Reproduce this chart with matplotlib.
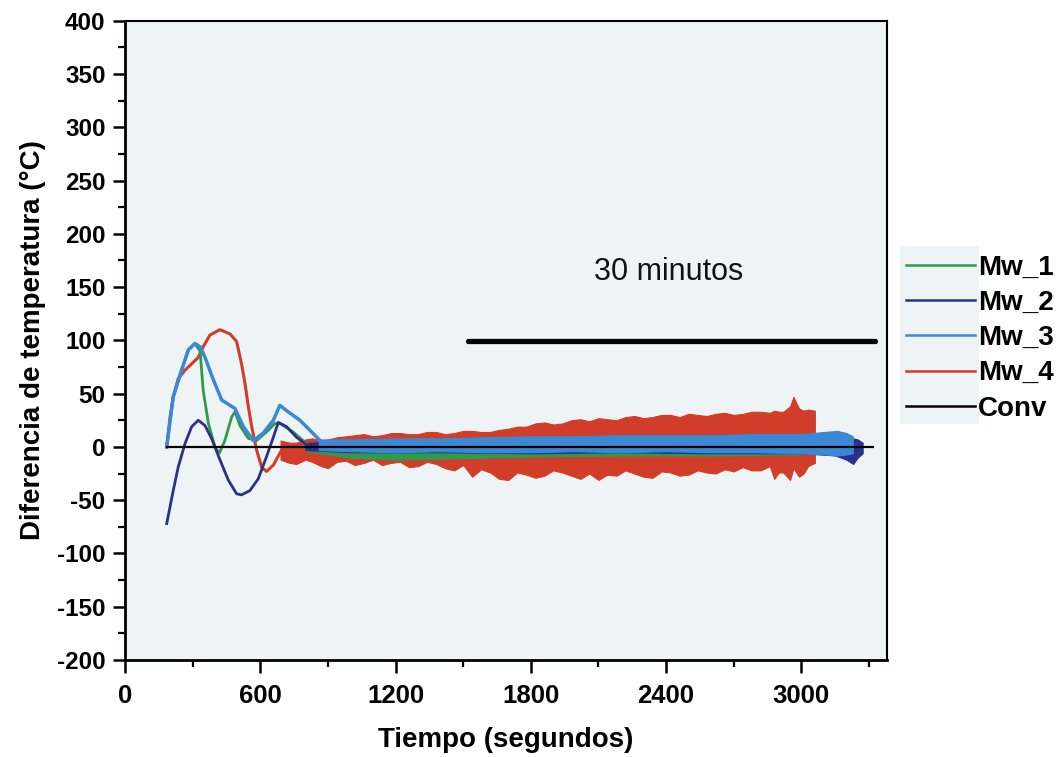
import numpy as np
import matplotlib.pyplot as plt
from matplotlib.patches import Rectangle
from matplotlib.ticker import MultipleLocator

plt.rcParams['font.family'] = ['Liberation Sans', 'DejaVu Sans']
plt.rcParams['axes.unicode_minus'] = False

# --- smooth start-up part of each run (time in s, temperature difference in °C) ---
mw1_t = [185, 214, 251, 281, 310, 333, 347, 370, 399, 418, 443, 473, 488, 510, 547, 584, 628, 665, 687, 746, 806]
mw1_v = [0, 47, 72, 91, 97, 90, 53, 22, 0, -6, 6, 28, 33, 20, 8, 6, 14, 22, 22, 14, 3]

mw2_t = [185, 214, 236, 266, 296, 325, 355, 384, 421, 458, 495, 517, 554, 591, 628, 658, 680, 717, 761, 806]
mw2_v = [-72, -41, -19, 3, 19, 25, 20, 8, -12, -31, -44, -45, -41, -30, -9, 9, 23, 19, 9, 2]

mw3_t = [185, 214, 251, 281, 310, 333, 355, 392, 429, 466, 488, 525, 569, 613, 658, 687, 717, 776, 828, 865]
mw3_v = [0, 47, 72, 91, 97, 94, 84, 63, 44, 39, 36, 19, 6, 13, 25, 39, 34, 25, 14, 6]

mw4_t = [185, 200, 214, 236, 266, 296, 325, 347, 377, 421, 466, 495, 517, 532, 547, 562, 584, 606, 628, 658, 687, 710]
mw4_v = [0, 28, 47, 64, 72, 78, 84, 94, 105, 110, 106, 99, 78, 60, 38, 19, -3, -19, -23, -17, -6, 3]

# --- noisy steady part: envelope of the signal (lower / upper) ---
mw4_band_t = [690, 730, 760, 800, 830, 870, 900, 940, 980, 1020, 1060, 1100, 1140, 1180, 1220, 1260,
              1300, 1340, 1380, 1420, 1460, 1500, 1540, 1580, 1620, 1660, 1700, 1740, 1780, 1820,
              1860, 1900, 1940, 1980, 2020, 2060, 2100, 2140, 2180, 2220, 2260, 2300, 2340, 2380,
              2420, 2460, 2500, 2540, 2580, 2620, 2660, 2700, 2740, 2780, 2820, 2860, 2880, 2900,
              2920, 2950, 2965, 2990, 3010, 3030, 3060]
mw4_band_lo = [-12, -15, -16, -12, -14, -18, -20, -14, -13, -17, -15, -12, -17, -15, -14, -19,
               -18, -14, -16, -20, -22, -17, -28, -21, -24, -30, -31, -24, -26, -29,
               -27, -22, -24, -27, -30, -25, -31, -26, -27, -22, -25, -28, -29, -23,
               -24, -27, -26, -22, -24, -25, -21, -23, -19, -22, -22, -18, -30, -24,
               -24, -31, -20, -28, -25, -18, -15]
mw4_band_hi = [6, 4, 4, 7, 8, 6, 7, 9, 10, 11, 12, 10, 11, 13, 13, 12,
               12, 14, 14, 12, 13, 15, 15, 14, 14, 16, 17, 19, 19, 22,
               23, 21, 22, 25, 26, 24, 27, 26, 25, 28, 29, 27, 28, 30,
               30, 28, 31, 30, 29, 31, 32, 30, 31, 33, 33, 32, 34, 33,
               33, 38, 47, 36, 34, 35, 34]

mw3_band_t = [860, 1000, 1200, 1400, 1600, 1800, 2000, 2200, 2400, 2600, 2800, 3000, 3100, 3160, 3200, 3228]
mw3_band_lo = [-3, -4, -5, -4, -5, -5, -4, -5, -4, -5, -5, -6, -7, -8, -7, -6]
mw3_band_hi = [7, 7, 8, 8, 9, 10, 10, 11, 11, 11, 12, 12, 14, 15, 13, 10]

mw2_band_t = [800, 1000, 1400, 1800, 2200, 2600, 3000, 3150, 3200, 3230, 3250, 3272]
mw2_band_lo = [-3, -5, -5, -6, -5, -6, -6, -8, -12, -16, -10, -6]
mw2_band_hi = [4, 5, 5, 6, 6, 6, 7, 8, 9, 8, 7, 4]

mw1_band_t = [800, 1000, 1200, 1400, 1600, 1800, 2200, 2600, 3000]
mw1_band_lo = [-4, -10, -12, -11, -10, -9, -8, -8, -7]
mw1_band_hi = [2, 0, 0, 1, 1, 2, 2, 2, 2]

conv_t = [185, 3317]
conv_v = [0, 0]

bar_t = [1521, 3326]
bar_v = [99, 99]

colors = {'Mw_1': '#2f9a4c', 'Mw_2': '#29318c', 'Mw_3': '#3b89d4', 'Mw_4': '#d23d29', 'Conv': '#000000'}

fig = plt.figure(figsize=(10.61, 7.57), dpi=100)
fig.patch.set_facecolor('white')
ax = fig.add_axes([0.1178, 0.1281, 0.7182, 0.8446])
ax.set_facecolor('#eef4f6')

# legend backdrop (light panel like the scanned original)
fig.patches.append(Rectangle((0.848, 0.440), 0.075, 0.235, transform=fig.transFigure,
                             facecolor='#eef4f6', edgecolor='none', zorder=0))

# bands first, then the smooth curves
ax.fill_between(mw4_band_t, mw4_band_lo, mw4_band_hi, color=colors['Mw_4'], lw=0.8, zorder=2)
ax.fill_between(mw1_band_t, mw1_band_lo, mw1_band_hi, color=colors['Mw_1'], lw=0.8, zorder=3)
ax.fill_between(mw2_band_t, mw2_band_lo, mw2_band_hi, color=colors['Mw_2'], lw=0.8, zorder=3.5)
ax.fill_between(mw3_band_t, mw3_band_lo, mw3_band_hi, color=colors['Mw_3'], lw=0.8, zorder=4)

ax.plot(mw4_t, mw4_v, color=colors['Mw_4'], lw=2.2, zorder=5)
ax.plot(mw1_t, mw1_v, color=colors['Mw_1'], lw=2.0, zorder=5)
ax.plot(mw3_t, mw3_v, color=colors['Mw_3'], lw=2.5, zorder=6)
ax.plot(mw2_t, mw2_v, color=colors['Mw_2'], lw=2.0, zorder=7)
ax.plot(conv_t, conv_v, color=colors['Conv'], lw=1.6, zorder=8)

# 30 minute marker
ax.plot(bar_t, bar_v, color='black', lw=3.8, solid_capstyle='round', zorder=8)
ax.text(2412, 164, '30 minutos', fontsize=22, ha='center', va='center', color='#111111')

ax.set_xlim(0, 3380)
ax.set_ylim(-200, 400)
ax.xaxis.set_major_locator(MultipleLocator(600))
ax.xaxis.set_minor_locator(MultipleLocator(300))
ax.yaxis.set_major_locator(MultipleLocator(50))
ax.yaxis.set_minor_locator(MultipleLocator(25))
ax.tick_params(which='major', direction='out', length=9, width=1.8, labelsize=17.5, pad=5)
ax.tick_params(which='minor', direction='out', length=5, width=1.6)
ax.tick_params(top=False, right=False)
ax.tick_params(axis='x', labelsize=18.5, pad=8)
for lab in ax.get_xticklabels() + ax.get_yticklabels():
    lab.set_fontweight('bold')
for side in ['left', 'bottom']:
    ax.spines[side].set_linewidth(2)
for side in ['top', 'right']:
    ax.spines[side].set_linewidth(1.5)

ax.set_xlabel('Tiempo (segundos)', fontsize=20, fontweight='bold', labelpad=14)
ax.set_ylabel('Diferencia de temperatura (°C)', fontsize=20, fontweight='bold', labelpad=8)

handles = [plt.Line2D([], [], color=colors[k], lw=1.8) for k in colors]
leg = fig.legend(handles, list(colors.keys()), loc='upper left', bbox_to_anchor=(0.843, 0.678),
                 frameon=False, fontsize=20, handlelength=2.5, handletextpad=0.12,
                 labelspacing=0.33, borderaxespad=0)
for t in leg.get_texts():
    t.set_fontweight('bold')

fig.savefig('out.png', dpi=100)
